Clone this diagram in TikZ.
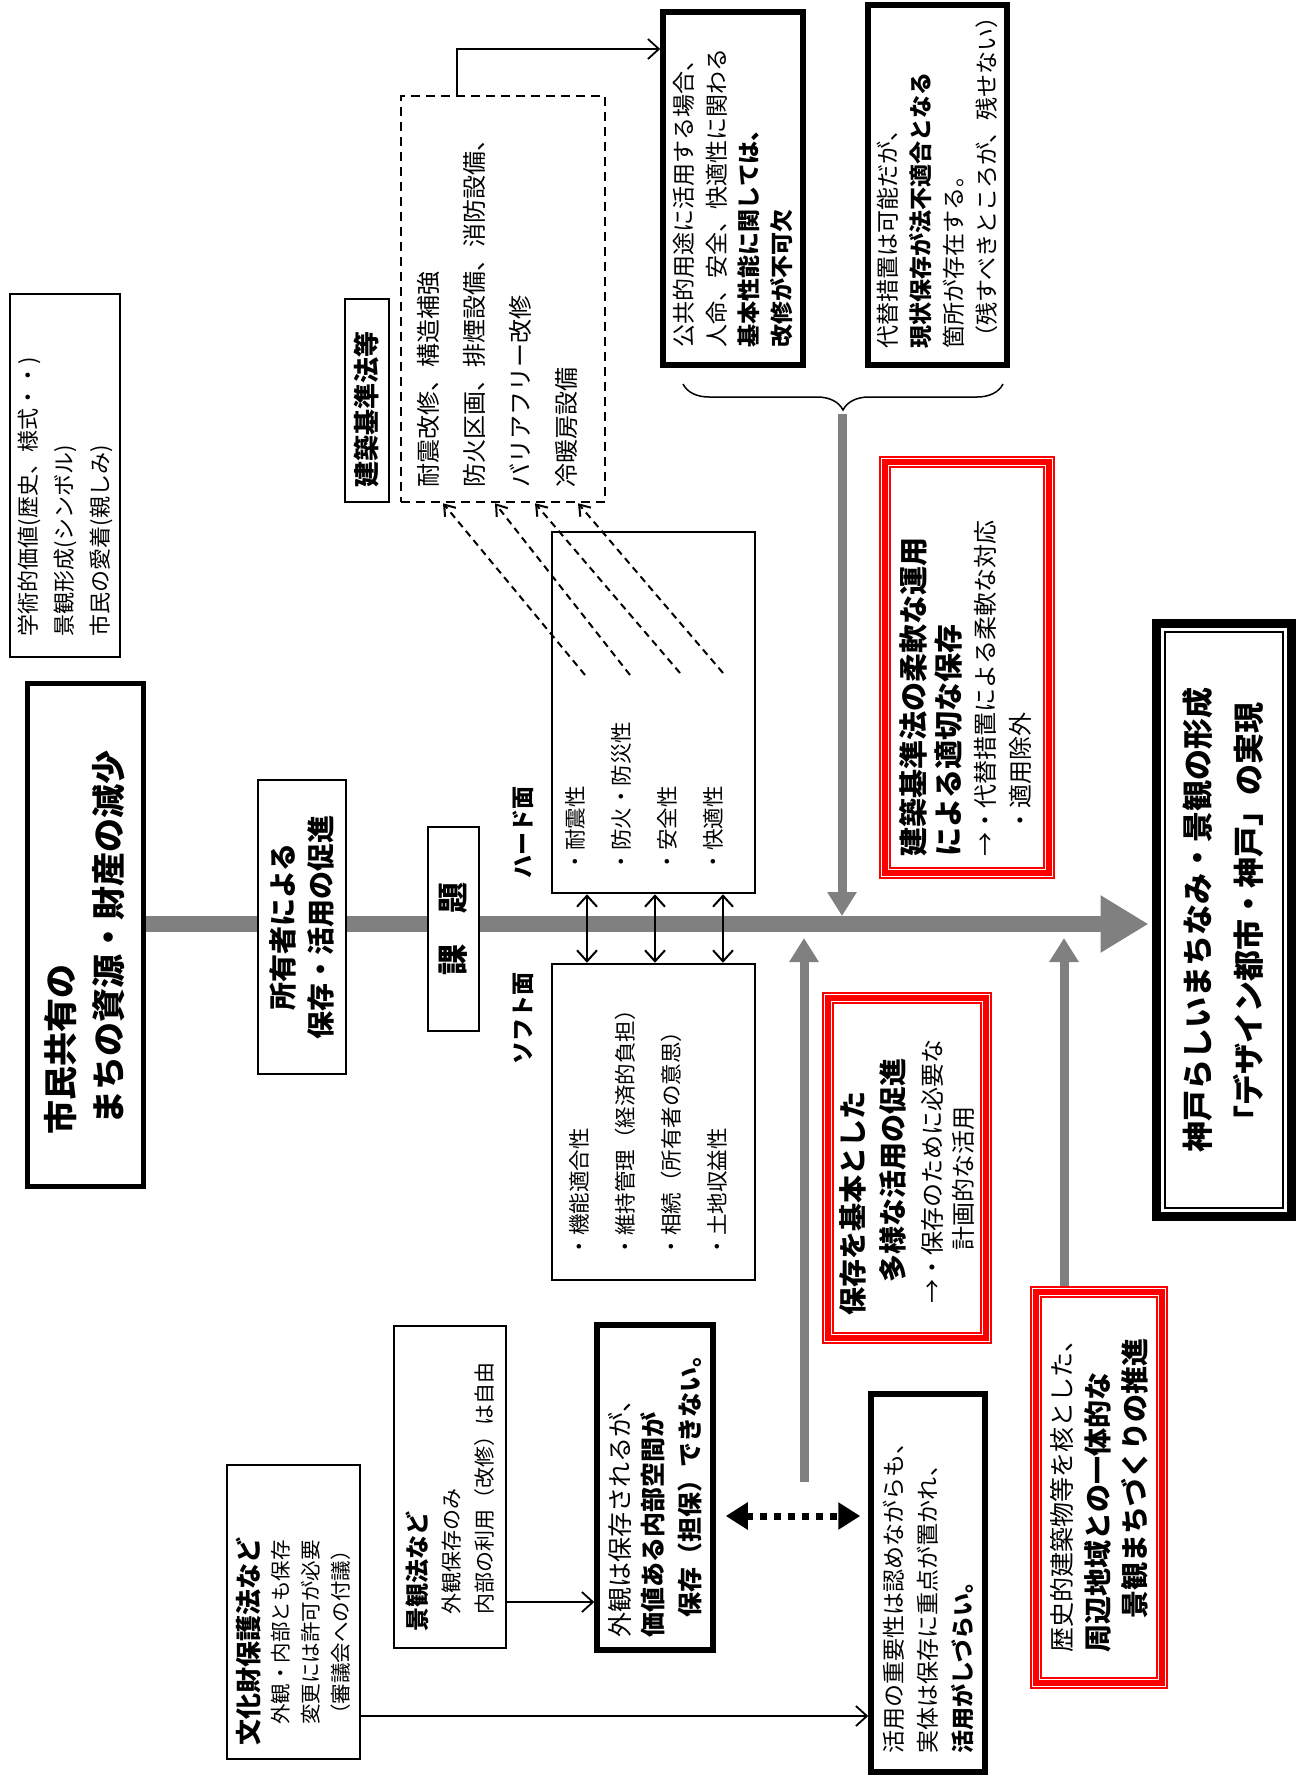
\documentclass[tikz,border=0pt]{standalone}
\usepackage{fontspec}
\setmainfont{Noto Sans CJK JP}
\usepackage{xcolor}
\usepackage{graphicx}
\usepackage{tikz}
\usetikzlibrary{arrows.meta,decorations.pathreplacing}
\definecolor{linegray}{HTML}{808080}
\definecolor{alert}{HTML}{FF0000}
\newcommand{\fs}[2]{\fontsize{#1}{#2}\selectfont}
\newcommand{\tate}[2]{\rotatebox{90}{\parbox{#1}{#2}}}
\tikzset{
  box/.style={draw, line width=2.5pt, fill=white, inner sep=0pt},
  heavybox/.style={box, line width=5.5pt},
  dashbox/.style={box, dash pattern=on 9pt off 6pt},
  redbox/.style={draw=alert, line width=12pt, fill=white, inner sep=0pt,
    postaction={draw=white, line width=1pt, double=alert, double distance=6pt}},
  thinarrow/.style={line width=1.8pt, -{Straight Barb[length=11pt,width=20pt]}},
  dblarrow/.style={line width=2pt, {Straight Barb[length=11pt,width=20pt]}-{Straight Barb[length=11pt,width=20pt]}},
  dasharrow/.style={line width=2pt, dash pattern=on 7pt off 5pt, -{Straight Barb[length=10pt,width=14pt]}},
  grayarrow/.style={draw=linegray, line width=9pt, -{Triangle[length=24pt,width=28pt]}},
  mainarrow/.style={draw=linegray, line width=16pt, -{Triangle[length=48pt,width=54pt]}},
  dotarrow/.style={line width=7pt, dash pattern=on 7pt off 7pt, {Triangle[length=22pt,width=26pt]}-{Triangle[length=22pt,width=26pt]}}
}

\begin{document}
\begin{tikzpicture}[x=1pt, y=-1pt]
  \path[use as bounding box, fill=white] (0,0) rectangle (1304,1778);

  \node[box, line width=2pt, minimum width=110pt, minimum height=363pt] (gakujutsu) at (65,475.5)
    {\tate{321pt}{\fs{22}{36}\raggedright 学術的価値(歴史、様式・・)\\景観形成(シンボル)\\市民の愛着(親しみ)}};
  \node[heavybox, line width=5pt, minimum width=116pt, minimum height=503pt] (shimin) at (85,934.5)
    {\tate{400pt}{\fs{34}{48}\bfseries\raggedright 市民共有の\\\hspace*{0.3em}まちの資源・財産の減少}};
  \node[draw, line width=9pt, fill=white, inner sep=0pt, minimum width=135pt, minimum height=593pt] (kobe) at (1223.5,919.5)
    {\tate{560pt}{\fs{31}{51}\bfseries\centering 神戸らしいまちなみ・景観の形成\\「デザイン都市・神戸」の実現}};
  \draw[line width=2pt] ([shift={(13,13)}]kobe.north west) rectangle ([shift={(-13,-13)}]kobe.south east);

  \coordinate (mainL) at (shimin.east |- 0,924);
  \coordinate (mainR) at (kobe.west |- 0,924);
  \draw[mainarrow, shorten >=3pt] (mainL) -- (mainR);

  \node[box, minimum width=88pt, minimum height=294pt] (shoyu) at (302,927)
    {\tate{270pt}{\fs{28}{38}\bfseries\centering 所有者による\\保存・活用の促進}};
  \node[box, minimum width=51pt, minimum height=204pt] (kadai) at (453.5,929)
    {\tate{180pt}{\fs{31}{31}\bfseries\centering 課　題}};
  \node (hardlbl) at (523,832) {\rotatebox{90}{\fs{23}{23}\bfseries ハード面}};
  \node (softlbl) at (523,1018) {\rotatebox{90}{\fs{23}{23}\bfseries ソフト面}};

  \node[box, minimum width=203pt, minimum height=361pt] (hard) at (653.5,712.5)
    {\tate{319pt}{\fs{21.5}{46}\raggedright ・耐震性\\・防火・防災性\\・安全性\\・快適性\par\vspace*{18pt}}};
  \node[box, minimum width=203pt, minimum height=316pt] (soft) at (653.5,1122)
    {\tate{270pt}{\fs{21.5}{46}\raggedright ・機能適合性\\・維持管理（経済的負担）\\・相続（所有者の意思）\\・土地収益性\par\vspace*{10pt}}};
  \draw[dblarrow] (hard.south -| 587,0) -- (soft.north -| 587,0);
  \draw[dblarrow] (hard.south -| 655,0) -- (soft.north -| 655,0);
  \draw[dblarrow] (hard.south -| 723,0) -- (soft.north -| 723,0);

  \node[box, minimum width=44pt, minimum height=203pt] (kijunhou) at (367,400.5)
    {\tate{173pt}{\fs{26}{26}\bfseries\raggedright 建築基準法等}};
  \node[dashbox, minimum width=204pt, minimum height=406pt] (kaishu) at (503,299)
    {\tate{376pt}{\fs{24}{46}\raggedright 耐震改修、構造補強\\防火区画、排煙設備、消防設備、\\バリアフリー改修\\冷暖房設備\par\vspace*{11pt}}};
  \coordinate (d1) at (585,675);
  \coordinate (d2) at (630,675);
  \coordinate (d3) at (680,673);
  \coordinate (d4) at (723,673);
  \draw[dasharrow] (d1) -- (kaishu.south -| 443,0);
  \draw[dasharrow] (d2) -- (kaishu.south -| 495,0);
  \draw[dasharrow] (d3) -- (kaishu.south -| 535,0);
  \draw[dasharrow] (d4) -- (kaishu.south -| 578,0);

  \node[heavybox, minimum width=140pt, minimum height=353pt] (koukyou) at (733,188.5)
    {\tate{317pt}{\fs{23}{32.5}\raggedright 公共的用途に活用する場合、\\人命、安全、快適性に関わる\\\textbf{基本性能に関しては、}\\\textbf{改修が不可欠}}};
  \node[heavybox, minimum width=139pt, minimum height=360pt] (daitai) at (937.5,185)
    {\tate{326pt}{\fs{23}{33}\raggedright 代替措置は可能だが、\\\textbf{現状保存が法不適合となる}\\箇所が存在する。\\（残すべきところが、残せない）}};
  \draw[thinarrow] (kaishu.north -| 457,0) |- (koukyou.west |- 0,49);

  \coordinate (braceR) at (1003,384);
  \coordinate (braceL) at (683,384);
  \coordinate (braceTip) at (842,414);
  \draw[decorate, decoration={brace, amplitude=26pt}, line width=1.5pt] (braceR) -- (braceL);
  \draw[grayarrow, shorten >=8pt] (braceTip) -- (braceTip |- mainL);

  \node[redbox, minimum width=164pt, minimum height=411pt] (jyuunan) at (967,667.5)
    {\tate{377pt}{\raggedright\fs{29}{35}\bfseries 建築基準法の柔軟な運用\par による適切な保存\par
      \fs{24}{35}\mdseries →・代替措置による柔軟な対応\par\hspace*{1em}・適用除外\par\vspace*{4pt}}};
  \node[redbox, minimum width=158pt, minimum height=340pt] (tayou) at (907,1168)
    {\tate{294pt}{\raggedright\fs{28}{40}\bfseries 保存を基本とした\par\hspace*{1.15em}多様な活用の促進\par
      \fs{24}{38}\mdseries\hspace*{0.5em}→・保存のために必要な\par\fs{24}{31}\hspace*{2.7em}計画的な活用\par}};
  \node[redbox, minimum width=126pt, minimum height=391pt] (rekishi) at (1099,1487.5)
    {\tate{330pt}{\raggedright\fs{25}{25}歴史的建築物等を核とした、\par
      \fs{28}{37}\bfseries 周辺地域との一体的な\par\hspace*{1.2em}景観まちづくりの推進\par}};

  \coordinate (upA) at (804,1482);
  \coordinate (upB) at (rekishi.north -| 1064,0);
  \draw[grayarrow, shorten >=14pt] (upA) -- (upA |- mainL);
  \draw[grayarrow, shorten >=14pt] (upB) -- (upB |- mainL);

  \node[box, minimum width=133pt, minimum height=294pt] (bunkazai) at (293.5,1612)
    {\tate{266pt}{\raggedright\fs{26}{26}\bfseries 文化財保護法など\par
      \fs{20.5}{30}\mdseries\hspace*{1em}外観・内部とも保存\par\hspace*{1em}変更には許可が必要\par\hspace*{1em}（審議会への付議）\par}};
  \node[box, minimum width=112pt, minimum height=322pt] (keikan) at (450,1487)
    {\tate{288pt}{\raggedright\fs{24}{24}\bfseries 景観法など\par
      \fs{21}{33}\mdseries\hspace*{0.8em}外観保存のみ\par\hspace*{0.8em}内部の利用（改修）は自由\par}};
  \node[heavybox, minimum width=116pt, minimum height=325pt] (gaikan) at (655,1487.5)
    {\tate{300pt}{\raggedright\fs{25}{25}外観は保存されるが、\par
      \fs{25}{33}\bfseries 価値ある内部空間が\par\fs{25}{37}\hspace*{0.8em}保存（担保）できない。\par}};
  \node[heavybox, minimum width=114pt, minimum height=378pt] (katsuyou) at (928,1583)
    {\tate{340pt}{\fs{23}{34.5}\raggedright 活用の重要性は認めながらも、\\実体は保存に重点が置かれ、\\\textbf{活用がしづらい。}}};

  \draw[thinarrow] (keikan.east |- 0,1602) -- (gaikan.west |- 0,1602);
  \draw[thinarrow] (bunkazai.east |- 0,1716) -- (katsuyou.west |- 0,1716);
  \draw[dotarrow, shorten <=10pt, shorten >=8pt] (gaikan.east |- 0,1516) -- (katsuyou.west |- 0,1516);
\end{tikzpicture}
\end{document}
